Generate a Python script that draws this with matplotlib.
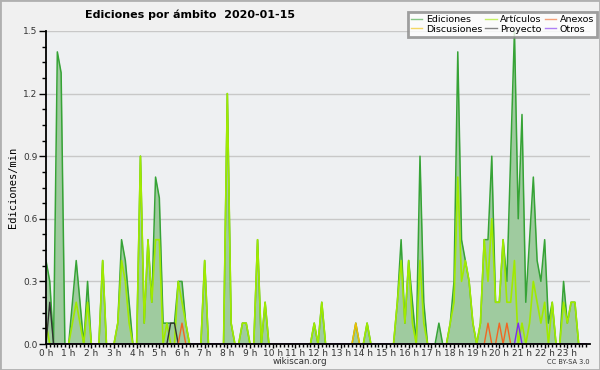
import numpy as np
import matplotlib
matplotlib.use('Agg')
import matplotlib.pyplot as plt
from matplotlib.patches import Rectangle

# edits per minute, one value every 10 minutes (0:00 .. 23:50), 12 values per line = 2 hours
ediciones = [
    0.4, 0.3, 0.0, 1.4, 1.3, 0.0,   0.0, 0.2, 0.4, 0.2, 0.0, 0.3,
    0.0, 0.0, 0.0, 0.4, 0.0, 0.0,   0.0, 0.1, 0.5, 0.4, 0.2, 0.0,
    0.0, 0.9, 0.1, 0.5, 0.2, 0.8,   0.7, 0.1, 0.1, 0.1, 0.1, 0.3,
    0.3, 0.1, 0.0, 0.0, 0.0, 0.0,   0.4, 0.0, 0.0, 0.0, 0.0, 0.0,
    1.2, 0.1, 0.0, 0.0, 0.1, 0.1,   0.0, 0.0, 0.5, 0.0, 0.2, 0.0,
    0.0, 0.0, 0.0, 0.0, 0.0, 0.0,   0.0, 0.0, 0.0, 0.0, 0.0, 0.1,
    0.0, 0.2, 0.0, 0.0, 0.0, 0.0,   0.0, 0.0, 0.0, 0.0, 0.1, 0.0,
    0.0, 0.1, 0.0, 0.0, 0.0, 0.0,   0.0, 0.0, 0.0, 0.2, 0.5, 0.1,
    0.4, 0.2, 0.0, 0.9, 0.2, 0.0,   0.0, 0.0, 0.1, 0.0, 0.0, 0.1,
    0.3, 1.4, 0.5, 0.4, 0.3, 0.1,   0.0, 0.1, 0.5, 0.5, 0.9, 0.2,
    0.2, 0.5, 0.3, 0.9, 1.5, 0.6,   1.1, 0.2, 0.5, 0.8, 0.4, 0.3,
    0.5, 0.1, 0.2, 0.0, 0.0, 0.3,   0.1, 0.2, 0.2, 0.0, 0.0, 0.0,
]
articulos = [
    0.1, 0.0, 0.0, 0.0, 0.0, 0.0,   0.0, 0.1, 0.2, 0.1, 0.0, 0.2,
    0.0, 0.0, 0.0, 0.4, 0.0, 0.0,   0.0, 0.1, 0.4, 0.3, 0.1, 0.0,
    0.0, 0.9, 0.1, 0.5, 0.2, 0.5,   0.5, 0.0, 0.1, 0.0, 0.0, 0.3,
    0.2, 0.1, 0.0, 0.0, 0.0, 0.0,   0.4, 0.0, 0.0, 0.0, 0.0, 0.0,
    1.2, 0.1, 0.0, 0.0, 0.1, 0.1,   0.0, 0.0, 0.5, 0.0, 0.2, 0.0,
    0.0, 0.0, 0.0, 0.0, 0.0, 0.0,   0.0, 0.0, 0.0, 0.0, 0.0, 0.1,
    0.0, 0.2, 0.0, 0.0, 0.0, 0.0,   0.0, 0.0, 0.0, 0.0, 0.0, 0.0,
    0.0, 0.1, 0.0, 0.0, 0.0, 0.0,   0.0, 0.0, 0.0, 0.2, 0.4, 0.1,
    0.4, 0.1, 0.0, 0.4, 0.1, 0.0,   0.0, 0.0, 0.0, 0.0, 0.0, 0.1,
    0.2, 0.8, 0.3, 0.4, 0.3, 0.1,   0.0, 0.1, 0.5, 0.3, 0.6, 0.2,
    0.2, 0.5, 0.2, 0.2, 0.4, 0.0,   0.1, 0.0, 0.1, 0.3, 0.2, 0.1,
    0.2, 0.0, 0.2, 0.0, 0.0, 0.2,   0.1, 0.2, 0.2, 0.0, 0.0, 0.0,
]
discusiones = [
    0.0, 0.0, 0.0, 0.0, 0.0, 0.0,   0.0, 0.0, 0.0, 0.0, 0.0, 0.0,
    0.0, 0.0, 0.0, 0.0, 0.0, 0.0,   0.0, 0.0, 0.0, 0.0, 0.0, 0.0,
    0.0, 0.0, 0.0, 0.0, 0.0, 0.0,   0.0, 0.0, 0.0, 0.0, 0.0, 0.0,
    0.0, 0.0, 0.0, 0.0, 0.0, 0.0,   0.0, 0.0, 0.0, 0.0, 0.0, 0.0,
    0.0, 0.0, 0.0, 0.0, 0.0, 0.0,   0.0, 0.0, 0.0, 0.0, 0.0, 0.0,
    0.0, 0.0, 0.0, 0.0, 0.0, 0.0,   0.0, 0.0, 0.0, 0.0, 0.0, 0.0,
    0.0, 0.0, 0.0, 0.0, 0.0, 0.0,   0.0, 0.0, 0.0, 0.0, 0.1, 0.0,
    0.0, 0.0, 0.0, 0.0, 0.0, 0.0,   0.0, 0.0, 0.0, 0.0, 0.0, 0.0,
    0.0, 0.0, 0.0, 0.0, 0.0, 0.0,   0.0, 0.0, 0.0, 0.0, 0.0, 0.0,
    0.0, 0.0, 0.0, 0.0, 0.0, 0.0,   0.0, 0.0, 0.0, 0.0, 0.0, 0.0,
    0.0, 0.0, 0.0, 0.0, 0.0, 0.0,   0.0, 0.0, 0.0, 0.0, 0.0, 0.0,
    0.0, 0.0, 0.0, 0.0, 0.0, 0.0,   0.0, 0.0, 0.0, 0.0, 0.0, 0.0,
]
proyecto = [
    0.0, 0.2, 0.0, 0.0, 0.0, 0.0,   0.0, 0.0, 0.0, 0.0, 0.0, 0.0,
    0.0, 0.0, 0.0, 0.0, 0.0, 0.0,   0.0, 0.0, 0.0, 0.0, 0.0, 0.0,
    0.0, 0.0, 0.0, 0.0, 0.0, 0.0,   0.0, 0.0, 0.0, 0.1, 0.1, 0.0,
    0.0, 0.0, 0.0, 0.0, 0.0, 0.0,   0.0, 0.0, 0.0, 0.0, 0.0, 0.0,
    0.0, 0.0, 0.0, 0.0, 0.0, 0.0,   0.0, 0.0, 0.0, 0.0, 0.0, 0.0,
    0.0, 0.0, 0.0, 0.0, 0.0, 0.0,   0.0, 0.0, 0.0, 0.0, 0.0, 0.0,
    0.0, 0.0, 0.0, 0.0, 0.0, 0.0,   0.0, 0.0, 0.0, 0.0, 0.0, 0.0,
    0.0, 0.0, 0.0, 0.0, 0.0, 0.0,   0.0, 0.0, 0.0, 0.0, 0.0, 0.0,
    0.0, 0.0, 0.0, 0.0, 0.0, 0.0,   0.0, 0.0, 0.0, 0.0, 0.0, 0.0,
    0.0, 0.0, 0.0, 0.0, 0.0, 0.0,   0.0, 0.0, 0.0, 0.0, 0.0, 0.0,
    0.0, 0.0, 0.0, 0.0, 0.0, 0.0,   0.0, 0.0, 0.0, 0.0, 0.0, 0.0,
    0.0, 0.0, 0.0, 0.0, 0.0, 0.0,   0.0, 0.0, 0.0, 0.0, 0.0, 0.0,
]
anexos = [
    0.0, 0.0, 0.0, 0.0, 0.0, 0.0,   0.0, 0.0, 0.0, 0.0, 0.0, 0.0,
    0.0, 0.0, 0.0, 0.0, 0.0, 0.0,   0.0, 0.0, 0.0, 0.0, 0.0, 0.0,
    0.0, 0.0, 0.0, 0.0, 0.0, 0.0,   0.0, 0.0, 0.0, 0.0, 0.0, 0.0,
    0.1, 0.0, 0.0, 0.0, 0.0, 0.0,   0.0, 0.0, 0.0, 0.0, 0.0, 0.0,
    0.0, 0.0, 0.0, 0.0, 0.0, 0.0,   0.0, 0.0, 0.0, 0.0, 0.0, 0.0,
    0.0, 0.0, 0.0, 0.0, 0.0, 0.0,   0.0, 0.0, 0.0, 0.0, 0.0, 0.0,
    0.0, 0.0, 0.0, 0.0, 0.0, 0.0,   0.0, 0.0, 0.0, 0.0, 0.0, 0.0,
    0.0, 0.0, 0.0, 0.0, 0.0, 0.0,   0.0, 0.0, 0.0, 0.0, 0.0, 0.0,
    0.0, 0.0, 0.0, 0.0, 0.0, 0.0,   0.0, 0.0, 0.0, 0.0, 0.0, 0.0,
    0.0, 0.0, 0.0, 0.0, 0.0, 0.0,   0.0, 0.0, 0.0, 0.1, 0.0, 0.0,
    0.1, 0.0, 0.1, 0.0, 0.0, 0.0,   0.0, 0.0, 0.0, 0.0, 0.0, 0.0,
    0.0, 0.0, 0.0, 0.0, 0.0, 0.0,   0.0, 0.0, 0.0, 0.0, 0.0, 0.0,
]
otros = [
    0.0, 0.0, 0.0, 0.0, 0.0, 0.0,   0.0, 0.0, 0.0, 0.0, 0.0, 0.0,
    0.0, 0.0, 0.0, 0.0, 0.0, 0.0,   0.0, 0.0, 0.0, 0.0, 0.0, 0.0,
    0.0, 0.0, 0.0, 0.0, 0.0, 0.0,   0.0, 0.0, 0.0, 0.0, 0.0, 0.0,
    0.0, 0.0, 0.0, 0.0, 0.0, 0.0,   0.0, 0.0, 0.0, 0.0, 0.0, 0.0,
    0.0, 0.0, 0.0, 0.0, 0.0, 0.0,   0.0, 0.0, 0.0, 0.0, 0.0, 0.0,
    0.0, 0.0, 0.0, 0.0, 0.0, 0.0,   0.0, 0.0, 0.0, 0.0, 0.0, 0.0,
    0.0, 0.0, 0.0, 0.0, 0.0, 0.0,   0.0, 0.0, 0.0, 0.0, 0.0, 0.0,
    0.0, 0.0, 0.0, 0.0, 0.0, 0.0,   0.0, 0.0, 0.0, 0.0, 0.0, 0.0,
    0.0, 0.0, 0.0, 0.0, 0.0, 0.0,   0.0, 0.0, 0.0, 0.0, 0.0, 0.0,
    0.0, 0.0, 0.0, 0.0, 0.0, 0.0,   0.0, 0.0, 0.0, 0.0, 0.0, 0.0,
    0.0, 0.0, 0.0, 0.0, 0.0, 0.1,   0.0, 0.0, 0.0, 0.0, 0.0, 0.0,
    0.0, 0.0, 0.0, 0.0, 0.0, 0.0,   0.0, 0.0, 0.0, 0.0, 0.0, 0.0,
]
hour_labels = ['%d h' % h for h in range(24)]

x = np.arange(len(ediciones)) / 6.0  # hours

fig = plt.figure(figsize=(6, 3.7), dpi=100, facecolor='#f0f0f0')
ax = fig.add_axes([46/600, 26/370, 544/600, 313/370])
ax.set_facecolor('#eef0f2')

# total edits: filled area + dark green line
ax.fill_between(x, ediciones, 0, color='#9fcb9f', lw=0, zorder=2)
l_ed, = ax.plot(x, ediciones, color='#36a336', lw=1.1, zorder=3)
l_art, = ax.plot(x, articulos, color='#a0ea00', lw=1.2, zorder=4)
l_dis, = ax.plot(x, discusiones, color='#f0c000', lw=1.1, zorder=5)
l_pro, = ax.plot(x, proyecto, color='#333333', lw=1.0, zorder=5)
l_anx, = ax.plot(x, anexos, color='#f26522', lw=1.0, zorder=5)
l_otr, = ax.plot(x, otros, color='#7b2cf0', lw=1.0, zorder=5)

ax.set_xlim(0, 24)
ax.set_ylim(0, 1.5)
ax.set_xticks(np.arange(24))
ax.set_xticklabels(hour_labels)
ax.set_xticks(np.arange(0, 24, 1/6), minor=True)
ax.set_yticks([0.0, 0.3, 0.6, 0.9, 1.2, 1.5])
ax.set_yticklabels(['0.0', '0.3', '0.6', '0.9', '1.2', '1.5'])
ax.set_yticks(np.arange(0, 1.5, 0.075), minor=True)
ax.tick_params(axis='x', which='major', length=3, width=1, labelsize=6.5, pad=0.5, colors='black', labelcolor='#333333')
ax.tick_params(axis='x', which='minor', length=2.5, width=1)
ax.tick_params(axis='y', which='major', length=5, width=1, labelsize=6.5, pad=1, labelcolor='#333333')
ax.tick_params(axis='y', which='minor', length=3, width=1)
ax.grid(axis='y', which='major', color='#c8c8c8', lw=1, zorder=1)
ax.set_axisbelow(True)

for s in ['top', 'right']:
    ax.spines[s].set_visible(False)
for s in ['left', 'bottom']:
    ax.spines[s].set_linewidth(1.3)
    ax.spines[s].set_zorder(6)

ax.set_ylabel('Ediciones/min', family='DejaVu Sans Mono', fontsize=7.5, labelpad=4)

fig.text(85/600, 1 - 15/370, 'Ediciones por ámbito  2020-01-15', fontsize=8,
         fontweight='bold', va='center', ha='left')
fig.text(300/600, 1 - 362/370, 'wikiscan.org', fontsize=6.3, color='#333333',
         ha='center', va='center')
fig.text(590/600, 1 - 362/370, 'CC BY-SA 3.0', fontsize=4.8, color='#333333',
         ha='right', va='center')

leg = fig.legend([l_ed, l_dis, l_art, l_pro, l_anx, l_otr],
                 ['Ediciones', 'Discusiones', 'Artículos', 'Proyecto', 'Anexos', 'Otros'],
                 ncol=3, loc='upper right', bbox_to_anchor=(597/600, 1 - 12/370),
                 fontsize=6.8, frameon=True, fancybox=False, handlelength=1.2,
                 handletextpad=0.4, columnspacing=0.3, labelspacing=0.1,
                 borderpad=0.3, borderaxespad=0)
leg.get_frame().set_edgecolor('#888888')
leg.get_frame().set_linewidth(2)
leg.get_frame().set_facecolor('white')
for h in leg.legend_handles:
    h.set_alpha(0.6)
    h.set_linewidth(1)

fig.patches.append(Rectangle((0, 0), 1, 1, transform=fig.transFigure,
                             fill=False, edgecolor='#b0b0b0', lw=2))

fig.savefig('out.png', dpi=100, facecolor=fig.get_facecolor())
